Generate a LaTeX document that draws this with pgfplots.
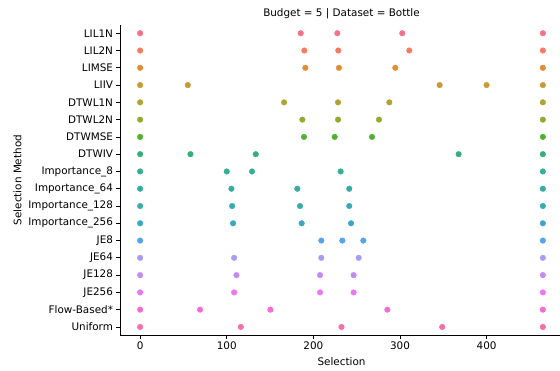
\documentclass[border=0pt]{standalone}
\usepackage{pgfplots}
\pgfplotsset{compat=1.18}
\usepackage{fontspec}
\setmainfont{DejaVu Sans}
\definecolor{c1}{HTML}{F77189}
\definecolor{c2}{HTML}{F67B61}
\definecolor{c3}{HTML}{E28C33}
\definecolor{c4}{HTML}{C99A32}
\definecolor{c5}{HTML}{B3A231}
\definecolor{c6}{HTML}{98A831}
\definecolor{c7}{HTML}{50B131}
\definecolor{c8}{HTML}{33B07A}
\definecolor{c9}{HTML}{34AE95}
\definecolor{c10}{HTML}{35ACA3}
\definecolor{c11}{HTML}{37ABB1}
\definecolor{c12}{HTML}{39A8C8}
\definecolor{c13}{HTML}{56A3F0}
\definecolor{c14}{HTML}{A29EF4}
\definecolor{c15}{HTML}{C38AF4}
\definecolor{c16}{HTML}{EA78F2}
\definecolor{c17}{HTML}{F46CD4}
\definecolor{c18}{HTML}{F56EA9}
\begin{document}
\begin{tikzpicture}
\useasboundingbox (0,0) rectangle (560pt,371pt);
\begin{axis}[
  at={(120pt,35.4pt)}, anchor=south west,
  scale only axis, width=443pt, height=311pt,
  xmin=-23.25, xmax=488.25, ymin=-0.5, ymax=17.5,
  axis x line*=bottom, axis y line*=left,
  axis line style={-, line width=0.8pt, black},
  tick align=outside, tick style={black, line width=0.8pt},
  major tick length=3.5pt,
  xtick={0,100,200,300,400},
  xticklabels={0,100,200,300,400},
  ytick={0,...,17},
  yticklabels={Uniform,Flow-Based*,JE256,JE128,JE64,JE8,Importance\_256,Importance\_128,Importance\_64,Importance\_8,DTWIV,DTWMSE,DTWL2N,DTWL1N,LIIV,LIMSE,LIL2N,LIL1N},
  ticklabel style={font=\fontsize{10.4}{12}\selectfont},
  xticklabel style={anchor=base, yshift=-10.2pt},
  label style={font=\fontsize{10.4}{12}\selectfont},
  xlabel={Selection}, ylabel={Selection Method},
  xlabel style={at={(axis description cs:0.5,0)}, anchor=base, yshift=-30.2pt},
  title={Budget = 5 | Dataset = Bottle},
  title style={font=\fontsize{10.4}{12}\selectfont, at={(axis description cs:0.5,1)}, anchor=base, yshift=1.6pt},
  clip=false,
  every axis plot/.append style={only marks, mark=*, mark size=2.8pt, mark options={draw=white, line width=0.3pt}},
]
\addplot[c1, mark options={fill=c1}] coordinates {(0,17) (185.4,17) (227.7,17) (302.7,17) (465,17)};
\addplot[c2, mark options={fill=c2}] coordinates {(0,16) (189.6,16) (228.8,16) (310.8,16) (465,16)};
\addplot[c3, mark options={fill=c3}] coordinates {(0,15) (190.8,15) (229.6,15) (294.6,15) (465,15)};
\addplot[c4, mark options={fill=c4}] coordinates {(0,14) (55,14) (345.8,14) (400,14) (465,14)};
\addplot[c5, mark options={fill=c5}] coordinates {(0,13) (166.2,13) (228.5,13) (287.7,13) (465,13)};
\addplot[c6, mark options={fill=c6}] coordinates {(0,12) (187.3,12) (228.5,12) (275.8,12) (465,12)};
\addplot[c7, mark options={fill=c7}] coordinates {(0,11) (189.2,11) (224.6,11) (267.7,11) (465,11)};
\addplot[c8, mark options={fill=c8}] coordinates {(0,10) (58.1,10) (133.5,10) (367.7,10) (465,10)};
\addplot[c9, mark options={fill=c9}] coordinates {(0,9) (100,9) (129.2,9) (231.5,9) (465,9)};
\addplot[c10, mark options={fill=c10}] coordinates {(0,8) (105.4,8) (181.5,8) (241.5,8) (465,8)};
\addplot[c11, mark options={fill=c11}] coordinates {(0,7) (106.2,7) (184.6,7) (241.5,7) (465,7)};
\addplot[c12, mark options={fill=c12}] coordinates {(0,6) (107.3,6) (186.5,6) (243.5,6) (465,6)};
\addplot[c13, mark options={fill=c13}] coordinates {(0,5) (209.2,5) (233.5,5) (257.7,5) (465,5)};
\addplot[c14, mark options={fill=c14}] coordinates {(0,4) (108.5,4) (209.2,4) (252.3,4) (465,4)};
\addplot[c15, mark options={fill=c15}] coordinates {(0,3) (111.2,3) (207.7,3) (246.5,3) (465,3)};
\addplot[c16, mark options={fill=c16}] coordinates {(0,2) (108.5,2) (207.7,2) (246.5,2) (465,2)};
\addplot[c17, mark options={fill=c17}] coordinates {(0,1) (69.2,1) (150.4,1) (285.4,1) (465,1)};
\addplot[c18, mark options={fill=c18}] coordinates {(0,0) (116.25,0) (232.5,0) (348.75,0) (465,0)};
\end{axis}
\end{tikzpicture}
\end{document}
